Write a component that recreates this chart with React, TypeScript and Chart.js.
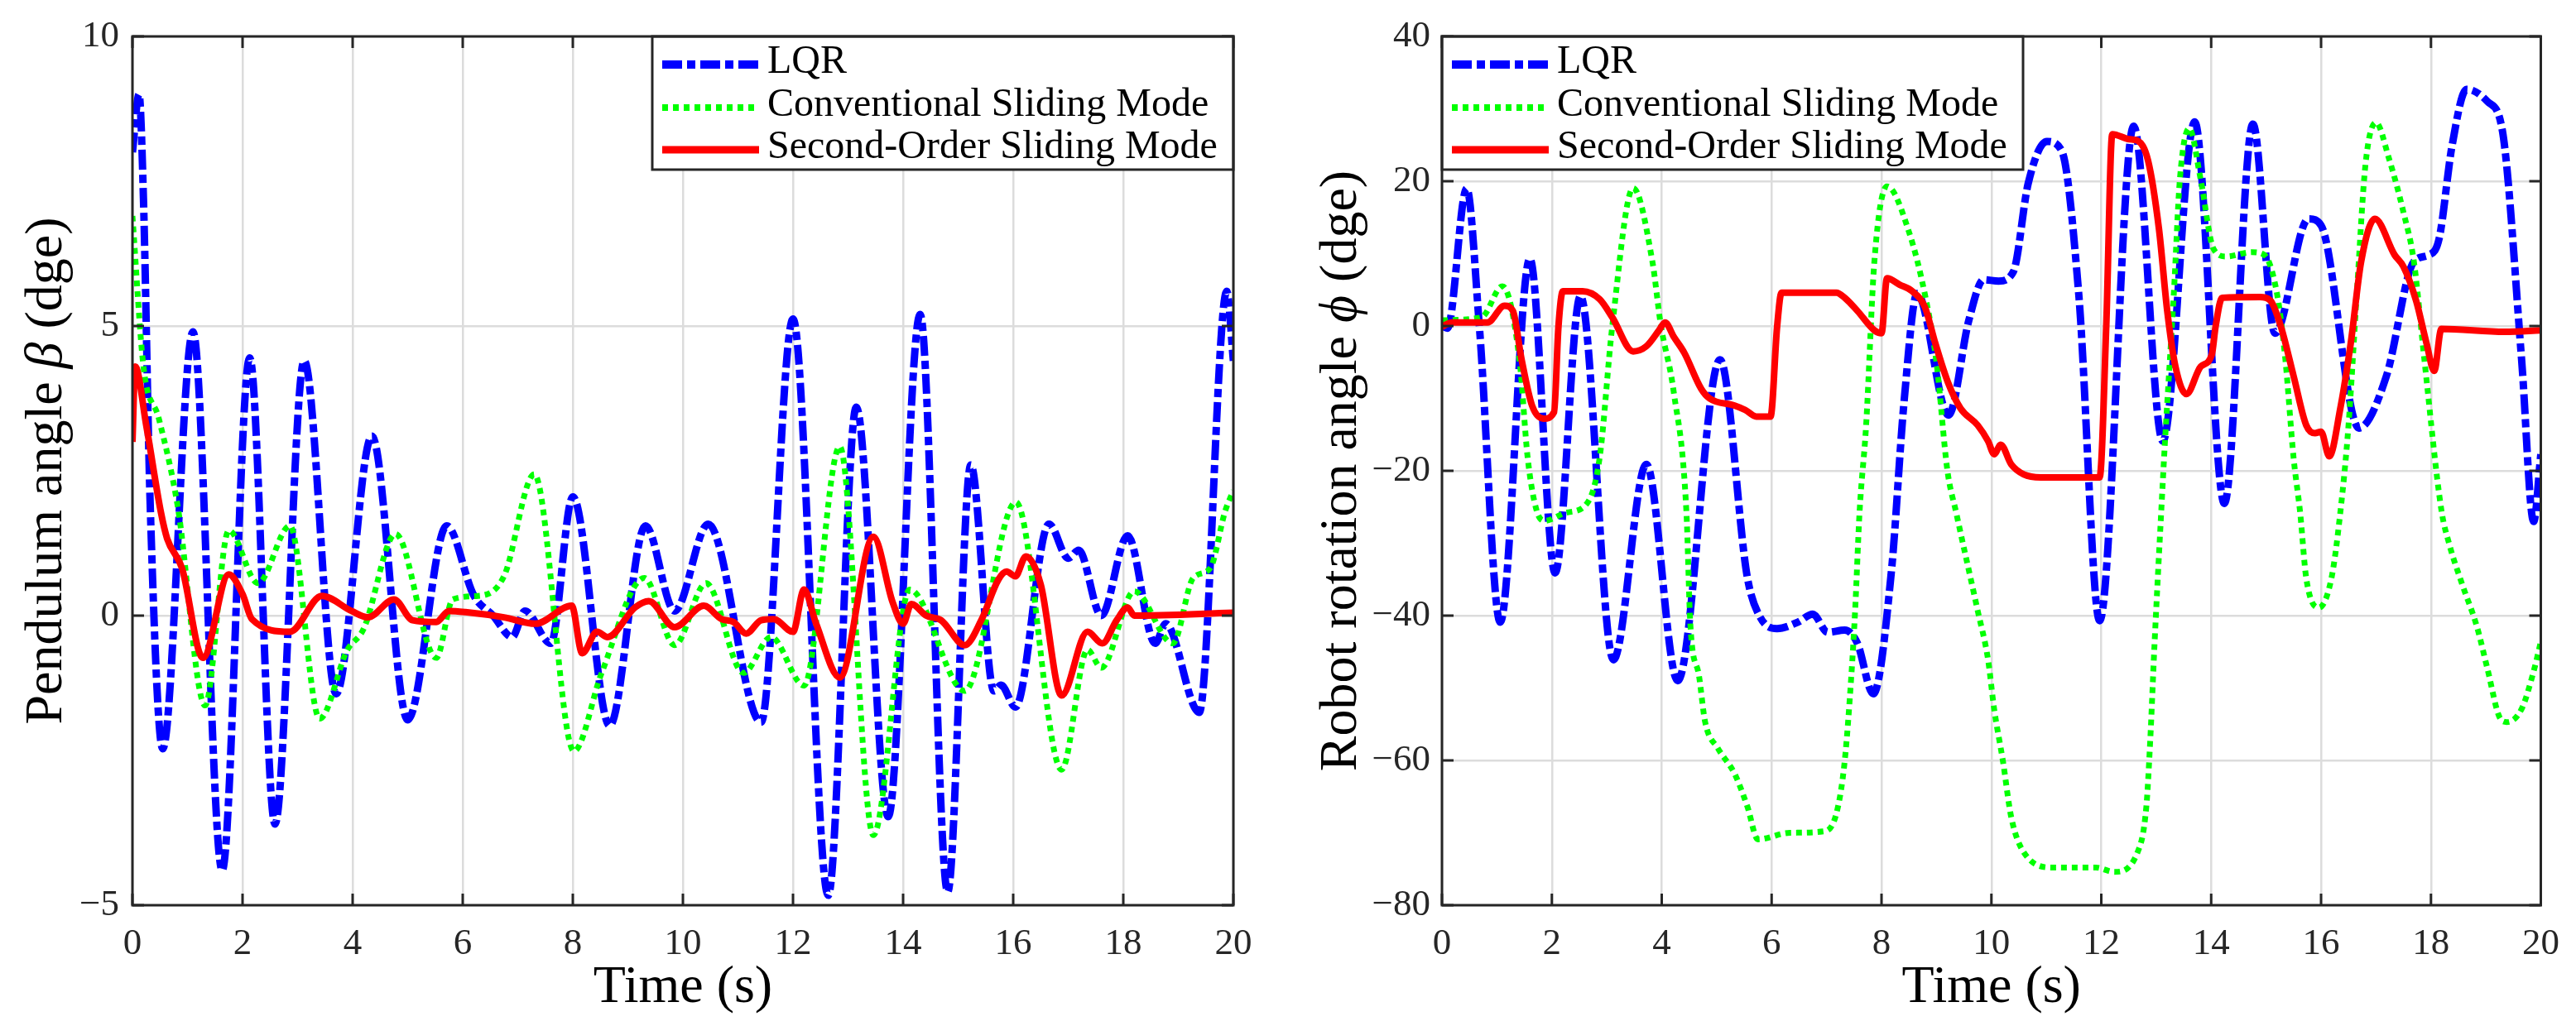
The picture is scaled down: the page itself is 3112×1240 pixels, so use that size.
import React, { useEffect, useRef } from 'react';
import { Chart, registerables } from 'chart.js';

Chart.register(...registerables);

type Pt = [number, number];

// axis ticks
const timeTicks = [0, 2, 4, 6, 8, 10, 12, 14, 16, 18, 20];
const betaTicks = [-5, 0, 5, 10];
const phiTicks = [-80, -60, -40, -20, 0, 20, 40];

const seriesLabels = ['LQR', 'Conventional Sliding Mode', 'Second-Order Sliding Mode'];

// pendulum angle beta (dge)
const betaLqr: Pt[] = [
    [0, 8.0], [0.12, 9.0], [0.2, 7.2], [0.32, 2.0], [0.55, -2.3], [1.1, 4.9], [1.63, -4.4],
    [2.13, 4.45], [2.59, -3.6], [3.12, 4.4], [3.7, -1.35], [4.35, 3.1], [5.0, -1.8],
    [5.71, 1.55], [6.2, 0.35], [6.55, 0.0], [6.9, -0.37], [7.13, 0.08], [7.6, -0.48],
    [8.0, 2.05], [8.67, -1.9], [9.32, 1.55], [9.85, 0.08], [10.46, 1.58], [11.42, -1.84],
    [12.0, 5.12], [12.64, -4.83], [13.15, 3.6], [13.73, -3.47], [14.31, 5.2], [14.81, -4.77],
    [15.23, 2.6], [15.65, -1.3], [15.78, -1.2], [16.04, -1.58], [16.65, 1.58], [17.0, 0.99],
    [17.19, 1.13], [17.6, 0.0], [18.08, 1.38], [18.58, -0.48], [18.77, -0.14], [19.38, -1.67],
    [19.88, 5.6], [20, 4.4],
];
const betaSmc: Pt[] = [
    [0, 6.9], [0.2, 4.3], [0.48, 3.4], [0.82, 1.9], [1.32, -1.55], [1.75, 1.47], [2.28, 0.56],
    [2.86, 1.55], [3.4, -1.78], [3.9, -0.6], [4.2, -0.23], [4.78, 1.41], [5.52, -0.73],
    [5.82, 0.28], [6.28, 0.34], [6.75, 0.68], [7.3, 2.44], [8.02, -2.34], [8.52, -1.0],
    [9.3, 0.65], [9.85, -0.51], [10.42, 0.56], [11.1, -0.99], [11.6, -0.37], [12.2, -1.21],
    [12.85, 2.92], [13.46, -3.79], [14.12, 0.45], [15.12, -1.3], [16.05, 1.96], [16.88, -2.66],
    [17.35, -0.59], [17.6, -0.9], [18.2, 0.42], [18.9, -0.48], [19.27, 0.65], [19.58, 0.82],
    [19.85, 1.8], [20, 2.16],
];
const betaSosm: Pt[] = [
    [0, 3.0], [0.05, 4.3], [0.25, 3.29], [0.52, 1.77], [0.63, 1.33], [0.9, 0.82], [1.28, -0.73],
    [1.75, 0.71], [2.0, 0.37], [2.17, -0.06], [2.86, -0.28], [3.44, 0.34], [3.98, 0.08],
    [4.28, -0.03], [4.75, 0.28], [5.09, -0.08], [5.52, -0.11], [5.75, 0.08], [6.05, 0.06],
    [6.75, -0.03], [7.32, -0.14], [7.98, 0.17], [8.17, -0.65], [8.44, -0.28], [8.63, -0.37],
    [9.13, 0.14], [9.38, 0.25], [9.85, -0.2], [10.38, 0.17], [10.7, -0.06], [10.92, -0.11],
    [11.15, -0.31], [11.42, -0.08], [11.65, -0.06], [12.0, -0.28], [12.2, 0.45], [12.42, -0.14],
    [12.85, -1.07], [13.46, 1.36], [13.81, 0.23], [14.0, -0.14], [14.15, 0.2], [14.42, 0.0],
    [14.69, -0.08], [15.12, -0.51], [15.42, -0.08], [15.73, 0.62], [15.88, 0.76], [16.04, 0.68],
    [16.23, 1.02], [16.5, 0.54], [16.88, -1.38], [17.35, -0.28], [17.62, -0.48], [17.88, -0.08],
    [18.08, 0.14], [18.2, 0.0], [20, 0.05],
];

// robot rotation angle phi (dge)
const phiLqr: Pt[] = [
    [0, 0], [0.1, -0.3], [0.45, 19.0], [0.68, 0], [1.06, -40.9], [1.6, 9.3], [2.06, -34.1],
    [2.52, 4.15], [3.12, -46.1], [3.72, -19.1], [4.29, -49.0], [5.06, -4.65], [5.56, -34.8],
    [5.79, -40.2], [6.1, -41.8], [6.48, -40.9], [6.75, -39.8], [7.02, -42.3], [7.33, -42.0],
    [7.56, -43.8], [7.85, -50.8], [8.18, -33.9], [8.41, -10.5], [8.65, 4.5], [9.22, -12.3],
    [9.59, 0.8], [9.86, 6.4], [10.13, 6.2], [10.4, 7.5], [10.67, 19.7], [11.01, 25.5],
    [11.28, 24.2], [11.59, 4.4], [11.97, -40.7], [12.59, 27.6], [13.12, -15.9], [13.7, 28.2],
    [14.24, -24.5], [14.76, 27.9], [15.16, -1.0], [15.77, 14.8], [16.0, 13.9], [16.69, -14.1],
    [17.19, -6.9], [17.69, 8.9], [17.96, 9.8], [18.15, 12.1], [18.38, 24.7], [18.65, 32.7],
    [19.03, 31.0], [19.3, 27.0], [19.65, -4.6], [19.87, -27.0], [20, -17.7],
];
const phiSmc: Pt[] = [
    [0, 0.8], [0.72, 1.2], [1.1, 5.5], [1.41, -4.6], [1.56, -18.2], [1.72, -25.4], [1.87, -26.9],
    [2.25, -25.8], [2.64, -24.5], [2.87, -18.2], [3.1, 0], [3.48, 19.05], [3.83, 8.9],
    [3.98, 0.3], [4.22, -9.2], [4.45, -25.8], [4.52, -41.1], [4.68, -48.4], [4.79, -54.7],
    [5.02, -58.3], [5.33, -61.9], [5.56, -66.4], [5.75, -70.9], [6.33, -70.0], [6.95, -69.8],
    [7.18, -67.3], [7.33, -60.1], [7.45, -48.4], [7.52, -39.3], [7.6, -25.8], [7.72, -13.7],
    [7.87, 8.9], [8.1, 19.3], [8.5, 13.0], [8.8, 4.0], [9.0, -5.0], [9.2, -20.0], [9.36, -25.8],
    [9.75, -39.3], [9.94, -46.1], [10.05, -52.9], [10.21, -60.1], [10.36, -67.8], [10.59, -72.7],
    [11.13, -74.8], [11.9, -74.8], [12.24, -75.4], [12.66, -72.7], [12.82, -66.4], [12.89, -57.4],
    [12.97, -43.8], [13.09, -25.8], [13.16, -15.9], [13.32, 4.4], [13.43, 20.2], [13.6, 27.3],
    [13.81, 20.2], [14.04, 10.7], [14.27, 9.6], [14.74, 10.2], [14.97, 9.8], [15.2, 4.4],
    [15.35, -4.6], [15.5, -18.2], [15.62, -25.8], [15.73, -34.8], [15.96, -38.9], [16.19, -34.8],
    [16.35, -25.8], [16.5, -13.7], [16.65, 4.4], [16.81, 22.4], [17.0, 28.1], [17.23, 23.3],
    [17.5, 15.7], [17.69, 8.9], [17.88, -4.6], [18.19, -25.4], [18.34, -30.3], [18.57, -35.7],
    [18.84, -41.6], [19.03, -47.4], [19.26, -54.2], [19.38, -54.7], [19.65, -52.9],
    [19.88, -47.4], [20, -43.6],
];
const phiSosm: Pt[] = [
    [0, -0.1], [0.18, 0.5], [0.83, 0.5], [1.14, 2.8], [1.29, 2.1], [1.45, -4.65], [1.64, -11],
    [1.85, -12.8], [2.04, -11.9], [2.12, -0.1], [2.2, 4.8], [2.56, 4.8], [2.87, 3.7], [3.1, 1.2],
    [3.48, -3.5], [3.72, -2.8], [3.95, -0.6], [4.06, 0.5], [4.22, -1.5], [4.41, -3.7],
    [4.72, -8.7], [4.87, -10], [5.33, -11], [5.52, -11.6], [5.72, -12.5], [5.98, -12.5],
    [6.1, -0.1], [6.18, 4.6], [7.18, 4.6], [7.33, 3.9], [7.56, 2.1], [7.87, -0.6], [8.0, -1.0],
    [8.1, 6.6], [8.33, 5.7], [8.56, 4.8], [8.79, 2.6], [8.98, -2.4], [9.21, -7.8], [9.44, -11.4],
    [9.75, -13.7], [9.94, -15.9], [10.05, -17.7], [10.17, -16.4], [10.36, -19.1], [10.59, -20.5],
    [10.9, -20.9], [11.97, -20.9], [12.09, -0.1], [12.2, 26.5], [12.51, 25.8], [12.66, 25.6],
    [12.85, 22.9], [13.05, 13.4], [13.2, 2.1], [13.35, -5.6], [13.55, -9.4], [13.81, -5.6],
    [14.01, -4.0], [14.08, -0.1], [14.2, 3.9], [14.89, 4.0], [15.08, 3.5], [15.27, -0.1],
    [15.5, -6.9], [15.73, -13.7], [15.89, -14.8], [16.0, -14.6], [16.15, -18.0], [16.35, -11.4],
    [16.54, -2.4], [16.73, 8.9], [16.98, 14.8], [17.34, 9.8], [17.5, 8.2], [17.73, 3.5],
    [17.92, -2.4], [18.06, -6.2], [18.19, -0.4], [19.34, -0.8], [20, -0.6],
];

const SERIF = '"Liberation Serif", "Times New Roman", "DejaVu Serif", serif';
const AXIS_COLOR = '#262626';

Chart.defaults.font.family = SERIF;

type PanelSpec = {
    lqr: Pt[];
    smc: Pt[];
    sosm: Pt[];
    yMin: number;
    yMax: number;
    yTicks: number[];
    yWidth: number;
    yPad: number;
    padRight: number;
    legendAtRight: boolean;
    titleX: number;
    yTitle: [string, string, string];
};

const betaPanel: PanelSpec = {
    lqr: betaLqr, smc: betaSmc, sosm: betaSosm,
    yMin: -5, yMax: 10, yTicks: betaTicks,
    yWidth: 160, yPad: 16, padRight: 66,
    legendAtRight: true, titleX: 74,
    yTitle: ['Pendulum angle ', 'β', ' (dge)'],
};

const phiPanel: PanelSpec = {
    lqr: phiLqr, smc: phiSmc, sosm: phiSosm,
    yMin: -80, yMax: 40, yTicks: phiTicks,
    yWidth: 186, yPad: 14, padRight: 41,
    legendAtRight: false, titleX: 82,
    yTitle: ['Robot rotation angle ', 'ϕ', ' (dge)'],
};

const styles = [
    { color: '#0000ff', width: 9, dash: [24, 6, 10, 6] },
    { color: '#00ff00', width: 7, dash: [7, 6] },
    { color: '#ff0000', width: 8, dash: [] as number[] },
];

// frame, inward ticks, boxed legend and axis titles (MATLAB look)
function panelDecor(spec: PanelSpec) {
    return {
        id: 'panelDecor',
        afterDraw(chart: any) {
            const { ctx, chartArea: a, scales } = chart;
            ctx.save();

            const seg = (x1: number, y1: number, x2: number, y2: number) => {
                ctx.beginPath();
                ctx.moveTo(x1, y1);
                ctx.lineTo(x2, y2);
                ctx.stroke();
            };

            ctx.strokeStyle = AXIS_COLOR;
            ctx.lineWidth = 3;
            ctx.setLineDash([]);
            const tl = 14;
            timeTicks.forEach((v) => {
                const x = scales.x.getPixelForValue(v);
                seg(x, a.bottom, x, a.bottom - tl);
                seg(x, a.top, x, a.top + tl);
            });
            spec.yTicks.forEach((v) => {
                const y = scales.y.getPixelForValue(v);
                seg(a.left, y, a.left + tl, y);
                seg(a.right, y, a.right - tl, y);
            });

            // legend
            const lw = 702;
            const lh = 161;
            const lx = spec.legendAtRight ? a.right - lw : a.left;
            const ly = a.top;
            ctx.fillStyle = '#ffffff';
            ctx.fillRect(lx, ly, lw, lh);
            ctx.strokeStyle = AXIS_COLOR;
            ctx.lineWidth = 3;
            ctx.strokeRect(lx, ly, lw, lh);
            const rows = [34, 86, 137];
            ctx.font = `48px ${SERIF}`;
            ctx.textAlign = 'left';
            ctx.textBaseline = 'middle';
            seriesLabels.forEach((label, i) => {
                const s = styles[i];
                const y = ly + rows[i];
                ctx.strokeStyle = s.color;
                ctx.lineWidth = s.width + 1;
                ctx.setLineDash(s.dash);
                seg(lx + 12, y, lx + 129, y);
                ctx.setLineDash([]);
                ctx.fillStyle = '#000000';
                ctx.fillText(label, lx + 139, y - 3);
            });

            // frame
            ctx.strokeStyle = AXIS_COLOR;
            ctx.lineWidth = 3;
            ctx.strokeRect(a.left, a.top, a.right - a.left, a.bottom - a.top);

            // x title
            ctx.fillStyle = '#000000';
            ctx.font = `64px ${SERIF}`;
            ctx.textAlign = 'center';
            ctx.textBaseline = 'alphabetic';
            ctx.fillText('Time (s)', (a.left + a.right) / 2, 1211);

            // y title, greek letter in italic
            const fonts = [`64px ${SERIF}`, `italic 64px ${SERIF}`, `64px ${SERIF}`];
            const widths = spec.yTitle.map((t, i) => {
                ctx.font = fonts[i];
                return ctx.measureText(t).width;
            });
            const total = widths.reduce((p, w) => p + w, 0);
            ctx.translate(spec.titleX, (a.top + a.bottom) / 2);
            ctx.rotate(-Math.PI / 2);
            ctx.textAlign = 'left';
            let cx = -total / 2;
            spec.yTitle.forEach((t, i) => {
                ctx.font = fonts[i];
                ctx.fillText(t, cx, 0);
                cx += widths[i];
            });
            ctx.restore();
        },
    };
}

const minus = (v: number | string) => String(v).replace('-', '\u2212');

function buildConfig(spec: PanelSpec): any {
    const series = [spec.lqr, spec.smc, spec.sosm];
    return {
        type: 'line',
        data: {
            datasets: series.map((pts, i) => ({
                label: seriesLabels[i],
                data: pts.map(([x, y]) => ({ x, y })),
                borderColor: styles[i].color,
                borderWidth: styles[i].width,
                borderDash: styles[i].dash,
                borderJoinStyle: 'round',
                pointRadius: 0,
                fill: false,
                cubicInterpolationMode: 'monotone',
                order: 3 - i,
            })),
        },
        options: {
            animation: false,
            responsive: false,
            layout: { padding: { left: 0, right: spec.padRight, top: 44, bottom: 0 } },
            plugins: {
                legend: { display: false },
                tooltip: { enabled: false },
            },
            scales: {
                x: {
                    type: 'linear',
                    min: 0,
                    max: 20,
                    afterBuildTicks: (s: any) => {
                        s.ticks = timeTicks.map((value) => ({ value }));
                    },
                    afterFit: (s: any) => {
                        s.height = 146;
                    },
                    border: { display: false },
                    grid: { color: '#dcdcdc', lineWidth: 2.5, drawTicks: false },
                    ticks: {
                        autoSkip: false,
                        maxRotation: 0,
                        padding: 20,
                        color: AXIS_COLOR,
                        font: { family: SERIF, size: 45 },
                        callback: minus,
                    },
                },
                y: {
                    type: 'linear',
                    min: spec.yMin,
                    max: spec.yMax,
                    afterBuildTicks: (s: any) => {
                        s.ticks = spec.yTicks.map((value) => ({ value }));
                    },
                    afterFit: (s: any) => {
                        s.width = spec.yWidth;
                    },
                    border: { display: false },
                    grid: { color: '#dcdcdc', lineWidth: 2.5, drawTicks: false },
                    ticks: {
                        autoSkip: false,
                        padding: spec.yPad,
                        color: AXIS_COLOR,
                        font: { family: SERIF, size: 45 },
                        callback: minus,
                    },
                },
            },
        },
        plugins: [panelDecor(spec)],
    };
}

const Panel: React.FC<{ spec: PanelSpec; left: number }> = ({ spec, left }) => {
    const ref = useRef<HTMLCanvasElement>(null);

    useEffect(() => {
        if (!ref.current) return;
        const chart = new Chart(ref.current, buildConfig(spec));
        return () => {
            chart.destroy();
        };
    }, [spec]);

    return (
        <div style={{ position: 'absolute', left, top: 0, width: 1556, height: 1240 }}>
            <canvas ref={ref} width={1556} height={1240} style={{ width: 1556, height: 1240 }} />
        </div>
    );
};

export default function App() {
    return (
        <div style={{ position: 'absolute', left: 0, top: 0, width: 3112, height: 1240, background: '#ffffff', overflow: 'hidden' }}>
            <Panel spec={betaPanel} left={0} />
            <Panel spec={phiPanel} left={1556} />
        </div>
    );
}
